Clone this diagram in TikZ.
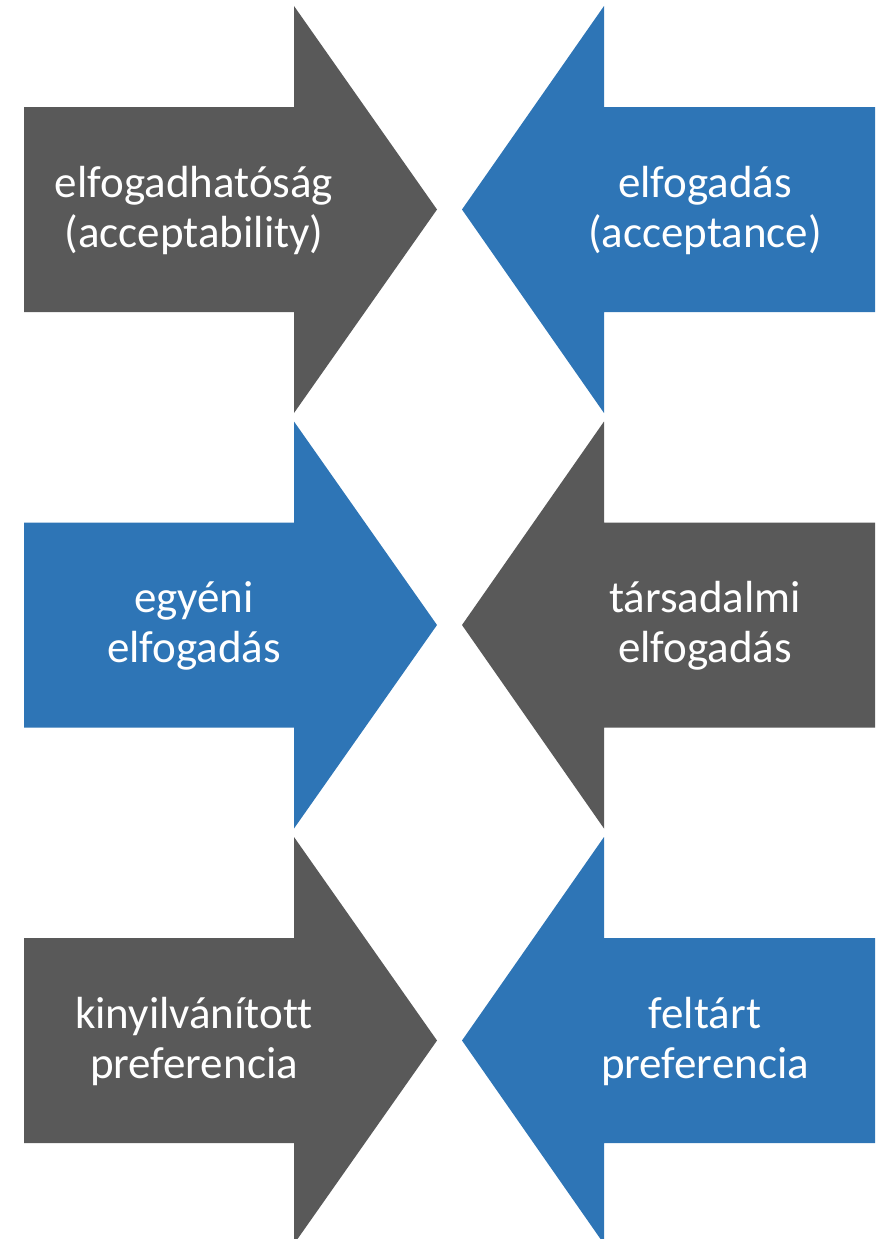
\documentclass[tikz,border=0pt]{standalone}
\usepackage{fontspec}
\setmainfont{Carlito}[Ligatures=NoCommon]
\definecolor{darkgray}{HTML}{595959}
\definecolor{bluefill}{HTML}{2E75B6}
\tikzset{
  lbl/.style={text=white, font=\fontsize{45}{50}\selectfont, inner sep=0pt, anchor=base},
}
\newcommand{\rarrow}[2]{% y-center, colour
  \fill[#2] (24,#1-102.5) -- (294,#1-102.5) -- (294,#1-203.5) -- (437,#1) -- (294,#1+203.5) -- (294,#1+102.5) -- (24,#1+102.5) -- cycle;
}
\newcommand{\larrow}[2]{%
  \fill[#2] (875,#1-102.5) -- (604,#1-102.5) -- (604,#1-203.5) -- (462,#1) -- (604,#1+203.5) -- (604,#1+102.5) -- (875,#1+102.5) -- cycle;
}
\begin{document}
\begin{tikzpicture}[x=1pt,y=-1pt]
\useasboundingbox (0,0) rectangle (884,1239);
\clip (0,0) rectangle (884,1239);
\rarrow{209.5}{darkgray}
\larrow{209.5}{bluefill}
\rarrow{625}{bluefill}
\larrow{625}{darkgray}
\rarrow{1040.5}{darkgray}
\larrow{1040.5}{bluefill}
% texts
\node[lbl] (t1a) at (194,197) {elfogadhatóság};
\node[lbl] (t1b) at (194,247) {(acceptability)};
\node[lbl] (t2a) at (705,197) {elfogadás};
\node[lbl] (t2b) at (705,247) {(acceptance)};
\node[lbl] (t3a) at (194,612.5) {egyéni};
\node[lbl] (t3b) at (194,662.5) {elfogadás};
\node[lbl] (t4a) at (705,612.5) {társadalmi};
\node[lbl] (t4b) at (705,662.5) {elfogadás};
\node[lbl] (t5a) at (194,1028) {kinyilvánított};
\node[lbl] (t5b) at (194,1078) {preferencia};
\node[lbl] (t6a) at (705,1028) {feltárt};
\node[lbl] (t6b) at (705,1078) {preferencia};
\end{tikzpicture}
\end{document}
